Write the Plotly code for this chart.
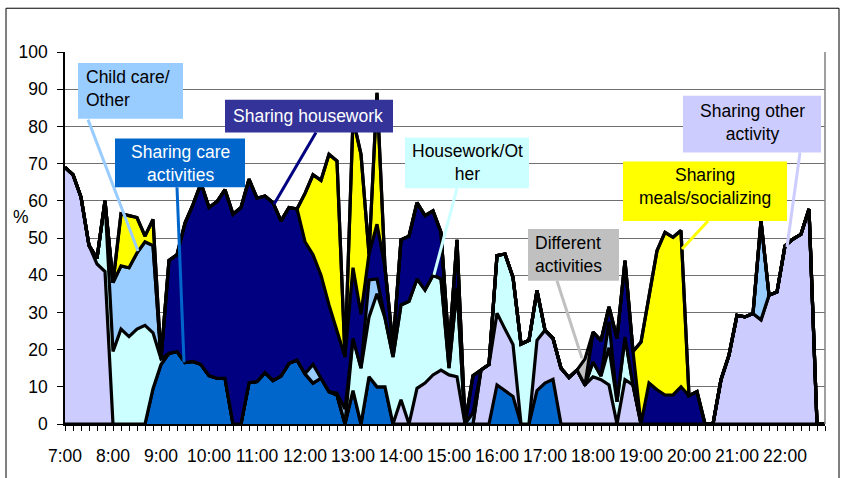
import plotly.graph_objects as go

# 10-minute time slots, 7:00 ... 22:50
slots = list(range(96))
hour_labels = ["7:00", "8:00", "9:00", "10:00", "11:00", "12:00", "13:00", "14:00",
               "15:00", "16:00", "17:00", "18:00", "19:00", "20:00", "21:00", "22:00"]

# Percent of couples per activity pattern (stacked, bottom to top)
care_shared = [0, 0, 0, 0, 0, 0, 0, 0, 0, 0, 0, 9.5, 16, 19, 19.5, 16.5,
               16.8, 16, 13, 12.3, 12.3, 0, 0, 11.1, 11.4, 13.8, 11.7, 12.9, 16.3, 17.2, 13.5, 11,
               12.3, 8.7, 7.8, 0, 9, 0, 12.7, 10, 10, 0, 0, 0, 0, 0, 0, 0,
               0, 0, 0, 0, 0, 0, 10.5, 9, 7.4, 0, 0, 9, 11, 12, 0, 0,
               0, 0, 0, 0, 0, 0, 0, 0, 0, 0, 0, 0, 0, 0, 0, 0,
               0, 0, 0, 0, 0, 0, 0, 0, 0, 0, 0, 0, 0, 0, 0, 0]
other_shared = [69, 67, 61, 48, 43, 41, 0, 0, 0, 0, 0, 0, 0, 0, 0, 0,
                0, 0, 0, 0, 0, 0, 0, 0, 0, 0, 0, 0, 0, 0, 0, 0,
                0, 0, 0, 0, 0, 0, 0, 0, 0, 0, 6.5, 0, 9.6, 11, 13.2, 14.5,
                13.2, 12.7, 0, 0, 14.5, 16, 19.3, 16.5, 14, 0, 0, 13.5, 14.2, 11, 15, 12.5,
                14.5, 10.5, 12.7, 11.9, 10.5, 0, 11.9, 10.5, 0, 0, 0, 0, 0, 0, 0, 0,
                0, 0, 11.9, 18.5, 29.2, 28.8, 29.7, 28, 34.6, 35.5, 47.9, 49.7, 51, 57.8, 0, 0]
housework_other = [0, 0, 0, 0, 1.5, 19, 19.5, 25.5, 23.5, 25.5, 26.5, 15, 1.5, 0, 0, 0,
                   0, 0, 0, 0, 0, 0, 0, 0, 0, 0, 0, 0, 0, 0, 0, 0,
                   0, 0, 0, 0, 14, 15, 16, 25, 18.5, 18, 25.5, 33, 29.4, 25, 26.8, 24.5,
                   1.8, 24, 0, 0, 0, 0, 15.5, 20.2, 18, 21.5, 22.5, 13.4, 0, 0, 0, 0,
                   0, 0, 4, 1, 10, 6, 11.5, 0, 0, 0, 0, 0, 0, 0, 0, 0,
                   0, 0, 0, 0, 0, 0, 0, 0, 0, 0, 0, 0, 0, 0, 0, 0]
childcare_other = [0, 0, 0, 0, 0, 0, 18.5, 17, 18.5, 20.5, 22.5, 23.5, 0, 0, 0, 0,
                   0, 0, 0, 0, 0, 0, 0, 0, 0, 0, 0, 0, 0, 0, 0, 5,
                   0, 0, 0.5, 4, 0, 0, 10, 4, 0, 0, 0, 0, 0, 0, 0, 0,
                   0, 0, 0, 3, 0, 0, 0, 0, 0, 0, 0, 0, 0, 0, 0, 0,
                   0, 0, 0, 0, 7, 0, 0, 0, 0, 0, 0, 0, 0, 0, 0, 0,
                   0, 0, 0, 0, 0, 0, 0, 26.6, 0, 0, 0, 0, 0, 0, 0, 0]
housework_shared = [0, 0, 0, 0, 0, 0, 0, 0, 0, 0, 0, 0, 0, 25, 26, 37.5,
                    42.2, 48.7, 45.2, 47.5, 50.7, 56.4, 58.2, 54.7, 49.3, 47.5, 47.8, 41.7, 41.9, 40.6, 35.5, 29.5,
                    27.7, 23.3, 16.7, 14, 19, 14.5, 7, 14.7, 13.5, 3, 17.5, 17.5, 20.5, 20, 17.3, 12.5,
                    5, 12.8, 0, 10, 0, 0, 0, 0, 0, 0, 0, 0, 0, 0, 0, 0,
                    0, 0, 8, 9.5, 4, 17, 20.5, 9, 0, 11, 9.2, 7.8, 7.8, 10, 7.6, 8.7,
                    0, 0, 0, 0, 0, 0, 0, 0, 0, 0, 0, 0, 0, 0, 0, 0]
meals_shared = [0, 0, 0, 0, 0, 0, 0, 14, 14, 9.5, 1.5, 7, 0, 0, 0, 0,
                0, 0, 0, 0, 0, 0, 0, 0, 0, 0, 0, 0, 0, 0, 13, 21.5,
                25.5, 40.5, 45.7, 0, 40, 43, 0, 35.3, 0, 0, 0, 0, 0, 0, 0, 0,
                0, 0, 0, 0, 0, 0, 0, 0, 0, 0, 0, 0, 0, 0, 0, 0,
                0, 0, 0, 0, 0, 0, 0, 0, 22, 23, 37.4, 43.7, 42.4, 42, 0, 0,
                0, 0, 0, 0, 0, 0, 0, 0, 0, 0, 0, 0, 0, 0, 0, 0]
different = [0] * 65 + [7] + [0] * 30

series = [
    ("Sharing care activities", care_shared, "#0066CC"),
    ("Sharing other activity", other_shared, "#CCCCFF"),
    ("Housework/Other", housework_other, "#CCFFFF"),
    ("Child care/Other", childcare_other, "#99CCFF"),
    ("Sharing housework", housework_shared, "#000080"),
    ("Sharing meals/socializing", meals_shared, "#FFFF00"),
    ("Different activities", different, "#C0C0C0"),
]

W, H = 846, 478
ML, MR, MT, MB = 65, 21, 52, 52
PW, PH = W - ML - MR, H - MT - MB
FONT = "Liberation Sans, Arial, sans-serif"


def fx(px):
    return (px - ML) / PW


def fy(py):
    return (H - MB - py) / PH


fig = go.Figure()
for name, vals, color in series:
    fig.add_trace(go.Scatter(
        x=slots, y=vals, name=name, mode="lines", stackgroup="all",
        line=dict(color="black", width=3.2), fillcolor=color,
        hoverinfo="skip", showlegend=False))

shapes = []
# outer chart frame
shapes.append(dict(type="rect", xref="paper", yref="paper",
                   x0=fx(6), x1=fx(839), y0=fy(490), y1=fy(8),
                   line=dict(color="black", width=1), layer="below"))
# right border of plot area
shapes.append(dict(type="line", xref="paper", yref="paper",
                   x0=1, x1=1, y0=0, y1=1,
                   line=dict(color="#808080", width=1.5), layer="above"))

# callouts: box (x0, y0, x1, y1), fill, text, text anchor, text color, leader line
callouts = [
    ("Child care/<br>Other", (78, 63, 183, 119), "#99CCFF", (84, 88.5, "left"), "black",
     ((88, 120), (138, 252))),
    ("Sharing care<br>activities", (115, 139, 245, 188), "#0066CC", (180, 164.5, "center"), "white",
     ((177, 188), (184, 364))),
    ("Sharing housework", (225, 100, 393, 133), "#333399", (308, 116, "center"), "white",
     ((316, 133), (274, 205))),
    ("Housework/Ot<br>her", (405, 138, 529, 189), "#CCFFFF", (467, 163, "center"), "black",
     ((457, 189), (434, 276))),
    ("Different<br>activities", (528, 230, 619, 282), "#C0C0C0", (533, 255.5, "left"), "black",
     ((557, 282), (582, 360))),
    ("Sharing<br>meals/socializing", (623, 162, 787, 222), "#FFFF00", (705, 187.5, "center"), "black",
     ((708, 222), (682, 250))),
    ("Sharing other<br>activity", (683, 96, 821, 153), "#CCCCFF", (752, 122.5, "center"), "black",
     ((800, 153), (787, 248))),
]
line_colors = ["#99CCFF", "#0066CC", "#000080", "#CCFFFF", "#C0C0C0", "#FFFF00", "#CCCCFF"]

annotations = []
for (text, box, fill, (tx, ty, al), tcol, ((lx0, ly0), (lx1, ly1))), lc in zip(callouts, line_colors):
    shapes.append(dict(type="line", xref="paper", yref="paper",
                       x0=fx(lx0), y0=fy(ly0), x1=fx(lx1), y1=fy(ly1),
                       line=dict(color=lc, width=3), layer="above"))
    shapes.append(dict(type="rect", xref="paper", yref="paper",
                       x0=fx(box[0]), x1=fx(box[2]), y0=fy(box[3]), y1=fy(box[1]),
                       fillcolor=fill, line=dict(width=0), layer="above"))
    annotations.append(dict(text=text, xref="paper", yref="paper",
                            x=fx(tx), y=fy(ty), xanchor=al, yanchor="middle",
                            align=al, showarrow=False,
                            font=dict(family=FONT, size=17.5, color=tcol)))

annotations.append(dict(text="%", xref="paper", yref="paper", x=fx(21), y=fy(218),
                        xanchor="center", yanchor="middle", showarrow=False,
                        font=dict(family=FONT, size=17.5, color="black")))

tickvals = slots
ticktext = [hour_labels[i // 6] if i % 6 == 0 else "" for i in slots]

fig.update_layout(
    width=W, height=H,
    margin=dict(l=ML, r=MR, t=MT, b=MB, pad=0),
    paper_bgcolor="white", plot_bgcolor="white",
    font=dict(family=FONT, size=17.5, color="black"),
    shapes=shapes, annotations=annotations,
    xaxis=dict(range=[0, 95], tickmode="array", tickvals=tickvals, ticktext=ticktext,
               ticks="outside", ticklen=5, tickwidth=1, tickcolor="black",
               showline=True, linecolor="black", linewidth=1.5,
               showgrid=False, zeroline=False, ticklabelstandoff=10,
               tickfont=dict(family=FONT, size=17.5, color="black")),
    yaxis=dict(range=[0, 100], tickmode="linear", tick0=0, dtick=10,
               ticks="outside", ticklen=6, tickwidth=1, tickcolor="black",
               showline=True, linecolor="black", linewidth=1.5,
               showgrid=True, gridcolor="#707070", gridwidth=1, zeroline=False,
               ticklabelstandoff=6,
               tickfont=dict(family=FONT, size=17.5, color="black")),
)

fig.write_html("out.html")
